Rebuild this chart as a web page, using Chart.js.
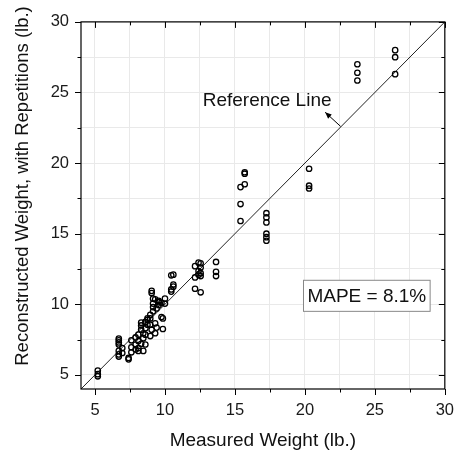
<!DOCTYPE html>
<html>
<head>
    <meta charset="utf-8">
    <title>Measured vs Reconstructed Weight</title>
    <style>
        body { margin: 0; background: #fff; }
    </style>
</head>
<body>
    <canvas id="myChart" width="466" height="455"></canvas>

    <script src="https://cdn.jsdelivr.net/npm/chart.js"></script>

    <script>
        // measured weight (lb.) and reconstructed weight with repetitions (lb.)
        const measured = [
            5.2, 5.2, 5.2,
            6.7, 6.7, 6.7, 6.7, 6.7, 6.7, 6.7,
            6.95, 6.95,
            7.4, 7.4,
            7.6, 7.6, 7.6,
            7.9, 7.9, 7.9,
            8.1, 8.1, 8.1, 8.1,
            8.3, 8.3, 8.3, 8.3,
            8.45, 8.45, 8.45,
            8.6, 8.6, 8.6, 8.6,
            8.75, 8.75, 8.75,
            8.95, 8.95, 8.95, 8.95,
            9.05, 9.05, 9.05,
            9.15, 9.15, 9.15, 9.15,
            9.3, 9.3, 9.3,
            9.4, 9.4,
            9.55, 9.55, 9.55,
            9.75, 9.75,
            9.85, 9.85,
            10.0, 10.0,
            10.45, 10.45, 10.45,
            10.6, 10.6, 10.6,
            12.15, 12.15, 12.15,
            12.4, 12.4, 12.4,
            12.55, 12.55, 12.55, 12.55, 12.55,
            13.65, 13.65, 13.65,
            15.4, 15.4, 15.4,
            15.7, 15.7, 15.7,
            17.25, 17.25, 17.25, 17.25, 17.25, 17.25,
            20.3, 20.3, 20.3,
            23.75, 23.75, 23.75,
            26.45, 26.45, 26.45
        ];
        const reconstructed = [
            5.3, 5.05, 4.9,
            7.57, 7.45, 7.3, 7.15, 6.7, 6.45, 6.3,
            6.9, 6.55,
            6.2, 6.1,
            7.45, 6.95, 6.6,
            7.65, 7.15, 6.8,
            7.85, 7.4, 6.9, 6.7,
            8.7, 8.5, 8.2, 7.2,
            7.6, 7.95, 6.7,
            8.75, 8.3, 7.85, 7.15,
            9.0, 8.55, 8.9,
            9.25, 8.55, 7.75, 9.0,
            10.95, 10.8, 8.2,
            10.4, 10.05, 9.8, 9.5,
            10.35, 8.65, 7.95,
            8.35, 9.7,
            10.25, 10.15, 9.95,
            10.1, 9.1,
            9.0, 8.25,
            10.4, 10.05,
            12.05, 11.05, 10.9,
            12.1, 11.4, 11.25,
            12.7, 11.9, 11.1,
            12.95, 12.35, 12.1,
            12.9, 12.6, 12.2, 12.0, 10.85,
            13.0, 12.3, 12.0,
            18.3, 17.1, 15.9,
            19.35, 19.25, 18.5,
            16.45, 16.15, 15.8, 15.0, 14.75, 14.5,
            19.6, 18.4, 18.2,
            27.0, 26.4, 25.85,
            28.0, 27.5, 26.3
        ];
        const refLine = [4, 30];
        const tickValues = [5, 7.5, 10, 12.5, 15, 17.5, 20, 22.5, 25, 27.5, 30];
        const mapeText = 'MAPE = 8.1%';

        const FONT = "'Liberation Sans', Arial, sans-serif";

        const points = measured.map((m, i) => ({ x: m, y: reconstructed[i] }));

        function setTicks(scale) {
            scale.ticks = tickValues.map(v => ({ value: v }));
        }

        // frame, tick marks, titles and annotations
        const decorations = {
            id: 'decorations',
            afterDraw(chart) {
                const ctx = chart.ctx;
                const a = chart.chartArea;
                const xs = chart.scales.x;
                const ys = chart.scales.y;
                ctx.save();
                ctx.strokeStyle = '#000';
                ctx.lineWidth = 1.2;
                ctx.strokeRect(a.left, a.top, a.right - a.left, a.bottom - a.top);

                ctx.lineWidth = 1;
                ctx.beginPath();
                tickValues.forEach(v => {
                    const len = v % 5 === 0 ? 6 : 3.5;
                    const px = Math.round(xs.getPixelForValue(v)) + 0.5;
                    ctx.moveTo(px, a.bottom); ctx.lineTo(px, a.bottom + len);
                    ctx.moveTo(px, a.top); ctx.lineTo(px, a.top + len);
                    const py = Math.round(ys.getPixelForValue(v)) + 0.5;
                    ctx.moveTo(a.left, py); ctx.lineTo(a.left - len, py);
                    ctx.moveTo(a.right, py); ctx.lineTo(a.right - len, py);
                });
                ctx.stroke();

                // axis titles
                ctx.fillStyle = '#111';
                ctx.font = '19px ' + FONT;
                ctx.textAlign = 'center';
                ctx.textBaseline = 'middle';
                ctx.fillText('Measured Weight (lb.)', (a.left + a.right) / 2, 441);
                ctx.save();
                ctx.translate(23, 186);
                ctx.rotate(-Math.PI / 2);
                ctx.font = '18.5px ' + FONT;
                ctx.fillText('Reconstructed Weight, with Repetitions (lb.)', 0, 0);
                ctx.restore();

                // reference line label with arrow
                ctx.fillText('Reference Line', xs.getPixelForValue(17.3), ys.getPixelForValue(24.4));
                const tx = xs.getPixelForValue(22.55), ty = ys.getPixelForValue(22.6);
                const hx = xs.getPixelForValue(21.45), hy = ys.getPixelForValue(23.6);
                ctx.beginPath();
                ctx.moveTo(tx, ty); ctx.lineTo(hx, hy);
                ctx.stroke();
                const ang = Math.atan2(hy - ty, hx - tx);
                ctx.beginPath();
                ctx.moveTo(hx, hy);
                ctx.lineTo(hx - 7 * Math.cos(ang - 0.4), hy - 7 * Math.sin(ang - 0.4));
                ctx.lineTo(hx - 7 * Math.cos(ang + 0.4), hy - 7 * Math.sin(ang + 0.4));
                ctx.closePath();
                ctx.fillStyle = '#000';
                ctx.fill();

                // MAPE box
                const bx1 = xs.getPixelForValue(19.9), bx2 = xs.getPixelForValue(28.95);
                const by1 = ys.getPixelForValue(11.7), by2 = ys.getPixelForValue(9.5);
                ctx.fillStyle = '#fff';
                ctx.fillRect(bx1, by1, bx2 - bx1, by2 - by1);
                ctx.strokeStyle = '#888';
                ctx.lineWidth = 1;
                ctx.strokeRect(bx1, by1, bx2 - bx1, by2 - by1);
                ctx.fillStyle = '#111';
                ctx.font = '19px ' + FONT;
                ctx.fillText(mapeText, (bx1 + bx2) / 2, (by1 + by2) / 2 + 1);
                ctx.restore();
            }
        };

        const config = {
            type: 'scatter',
            data: {
                datasets: [{
                    type: 'line',
                    data: refLine.map(v => ({ x: v, y: v })),
                    borderColor: '#222',
                    borderWidth: 1,
                    pointRadius: 0,
                    order: 2
                }, {
                    data: points,
                    pointStyle: 'circle',
                    pointRadius: 2.7,
                    borderColor: '#000',
                    borderWidth: 1.3,
                    backgroundColor: 'rgba(255,255,255,0)',
                    order: 1
                }]
            },
            options: {
                responsive: false,
                animation: false,
                layout: { padding: { top: 13, right: 10, left: 0, bottom: 0 } },
                plugins: {
                    legend: { display: false },
                    tooltip: { enabled: false }
                },
                scales: {
                    x: {
                        type: 'linear',
                        min: 4,
                        max: 30,
                        afterBuildTicks: setTicks,
                        afterFit: s => { s.height = 66; },
                        grid: { color: '#e9e9e9', drawTicks: false },
                        border: { display: false },
                        ticks: {
                            padding: 12,
                            color: '#1a1a1a',
                            font: { family: FONT, size: 16.5 },
                            callback: v => v % 5 === 0 ? v : ''
                        }
                    },
                    y: {
                        type: 'linear',
                        min: 4,
                        max: 30,
                        afterBuildTicks: setTicks,
                        afterFit: s => { s.width = 81; },
                        grid: { color: '#e9e9e9', drawTicks: false },
                        border: { display: false },
                        ticks: {
                            padding: 12,
                            color: '#1a1a1a',
                            font: { family: FONT, size: 16.5 },
                            callback: v => v % 5 === 0 ? v : ''
                        }
                    }
                }
            },
            plugins: [decorations]
        };

        const myChart = new Chart(document.getElementById('myChart'), config);
    </script>
</body>
</html>
